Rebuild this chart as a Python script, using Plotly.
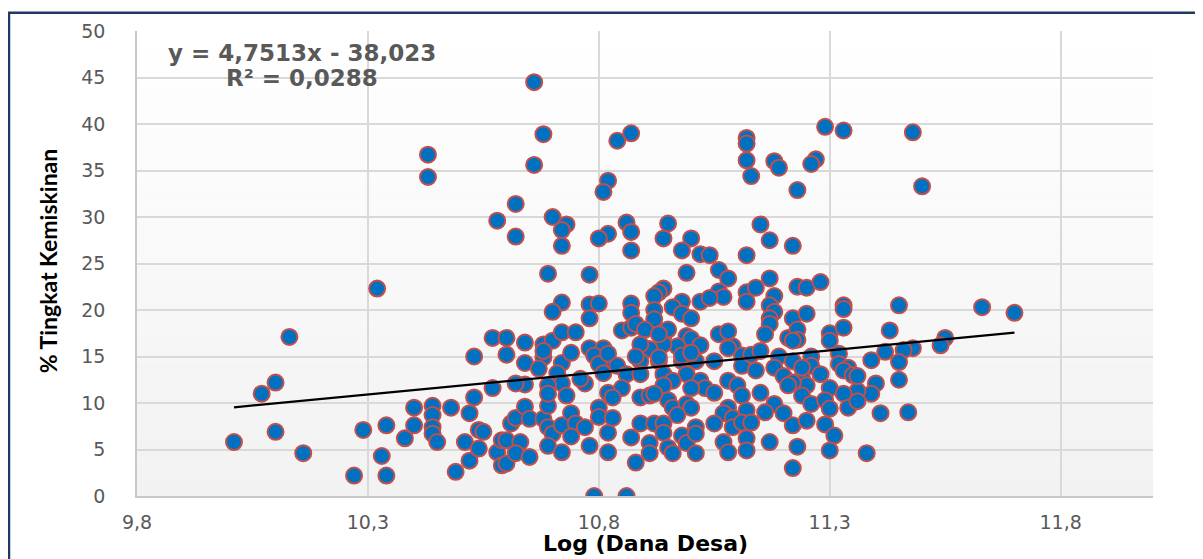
import plotly.graph_objects as go

# ---- data: (Log Dana Desa, % Tingkat Kemiskinan) ----
points_left = [
    (10.01, 5.8), (10.07, 11.0), (10.10, 12.2), (10.10, 6.9), (10.13, 17.1), (10.16, 4.6),
    (10.27, 2.2), (10.29, 7.1), (10.32, 22.3), (10.34, 7.6), (10.33, 4.3), (10.34, 2.2),
    (10.38, 6.2), (10.40, 9.5), (10.40, 7.6), (10.43, 36.7), (10.43, 34.3), (10.44, 9.7),
    (10.44, 8.7), (10.44, 7.4), (10.44, 6.7), (10.45, 5.8), (10.48, 9.5), (10.49, 2.6),
]

points_mid_low = [
    (10.51, 5.8), (10.52, 8.9), (10.52, 3.8), (10.54, 7.1), (10.55, 6.9), (10.54, 5.1),
    (10.58, 4.7), (10.59, 6.0), (10.60, 6.0), (10.59, 3.3), (10.60, 3.5), (10.61, 7.8),
    (10.62, 8.4), (10.63, 5.8), (10.62, 4.6), (10.64, 9.6), (10.65, 8.3), (10.65, 4.2),
    (10.68, 8.3), (10.69, 7.4), (10.70, 6.7), (10.69, 9.7), (10.69, 5.4), (10.72, 7.6),
    (10.72, 4.7), (10.74, 8.9), (10.75, 7.8), (10.74, 6.4), (10.77, 7.4), (10.78, 5.4),
    (10.80, 9.5), (10.80, 8.5), (10.82, 6.8), (10.82, 4.7), (10.79, 0.0), (10.86, 0.0),
]

points_mid = [
    (10.72, 20.8), (10.70, 19.8), (10.78, 20.6), (10.80, 20.7), (10.78, 19.1), (10.57, 17.0),
    (10.60, 17.0), (10.64, 16.5), (10.68, 16.3), (10.70, 16.7), (10.72, 17.6), (10.75, 17.6),
    (10.53, 15.0), (10.60, 15.2), (10.64, 14.3), (10.68, 14.9), (10.68, 15.6), (10.67, 13.7),
    (10.72, 14.3), (10.74, 15.4), (10.78, 15.9), (10.81, 15.9), (10.79, 15.1), (10.82, 14.3),
    (10.71, 13.2), (10.77, 12.1), (10.72, 12.1), (10.69, 11.9), (10.69, 11.0), (10.73, 10.8),
    (10.64, 12.0), (10.62, 12.1), (10.57, 11.6), (10.53, 10.6), (10.76, 12.6), (10.80, 14.2),
    (10.81, 13.2),
]

points_high = [
    (10.66, 44.5), (10.68, 38.9), (10.66, 35.6), (10.62, 31.4), (10.58, 29.6), (10.62, 27.9),
    (10.70, 30.0), (10.73, 29.2), (10.72, 28.6), (10.72, 26.9), (10.69, 23.9), (10.78, 23.8),
    (10.84, 38.2), (10.87, 39.0), (10.82, 33.9), (10.81, 32.7), (10.82, 28.2), (10.80, 27.7),
    (10.86, 29.4), (10.87, 28.4), (10.87, 26.4), (10.95, 29.3), (10.94, 27.7), (11.00, 27.7),
    (10.98, 26.4), (11.02, 26.0), (11.04, 25.9), (11.12, 38.5), (11.12, 37.9), (11.12, 36.1),
    (11.13, 34.4), (11.12, 25.9), (10.99, 24.0), (11.06, 24.3), (11.08, 23.4), (11.18, 36.0),
    (11.19, 35.3), (11.23, 32.9), (11.29, 39.7), (11.33, 39.3), (11.48, 39.1), (11.27, 36.2),
    (11.26, 35.7), (11.50, 33.3), (11.15, 29.2), (11.17, 27.5), (11.22, 26.9), (11.17, 23.4),
]

points_center = [
    (10.94, 22.3), (10.93, 21.9), (10.92, 21.5), (10.87, 20.7), (10.98, 20.9), (11.02, 20.9),
    (11.06, 22.0), (11.07, 21.4), (11.04, 21.3), (11.12, 21.9), (11.12, 20.9), (11.14, 22.4),
    (10.87, 19.7), (10.92, 20.0), (10.92, 19.0), (10.96, 20.3), (10.98, 19.6), (11.00, 19.1),
    (10.85, 17.8), (10.87, 18.1), (10.88, 18.5), (10.90, 17.9), (10.94, 17.2), (10.95, 17.9),
    (10.99, 17.2), (11.00, 16.9), (11.02, 16.2), (10.97, 16.1), (10.94, 16.3), (10.91, 15.8),
    (10.89, 16.3), (11.06, 17.4), (11.08, 17.7), (11.09, 16.1), (10.82, 15.3), (10.84, 14.0),
    (10.89, 14.5), (10.93, 14.5), (10.98, 14.5), (11.01, 14.5), (11.11, 15.1), (11.11, 14.0),
    (11.13, 15.2), (10.94, 13.1), (10.99, 13.1), (10.96, 12.4), (10.94, 11.9), (11.02, 12.4),
    (11.03, 11.6), (11.05, 11.1), (11.08, 12.4), (11.10, 11.9), (11.11, 10.8), (11.08, 9.5),
    (11.07, 8.9), (11.09, 8.4), (11.12, 9.2), (10.86, 13.1), (10.85, 11.6), (10.82, 11.1),
    (10.89, 10.6), (10.91, 10.8), (10.95, 10.3), (10.96, 9.5), (10.99, 9.9), (11.00, 9.5),
    (10.97, 8.7), (10.83, 8.4), (10.89, 7.8), (10.92, 7.8), (10.94, 7.8), (10.94, 6.8),
    (10.87, 6.3), (10.91, 5.7), (10.95, 5.2), (10.98, 6.5), (10.99, 5.7), (11.01, 7.4),
    (11.01, 6.7), (11.05, 7.8), (11.09, 7.4), (11.07, 5.8), (11.08, 4.7), (11.01, 4.6),
    (10.96, 4.6), (10.91, 4.6), (10.88, 3.6), (11.11, 7.9), (11.12, 6.2), (11.12, 4.9),
    (11.00, 11.6), (10.92, 11.0), (10.89, 13.1), (10.83, 10.6), (11.08, 15.9), (10.98, 15.1),
    (11.00, 15.4), (11.05, 14.5), (10.93, 14.9), (10.88, 15.0), (10.93, 17.4),
]

points_right = [
    (11.23, 22.5), (11.25, 22.4), (11.28, 23.0), (11.18, 21.5), (11.17, 20.5), (11.18, 19.8),
    (11.17, 19.1), (11.17, 18.5), (11.22, 19.1), (11.25, 19.6), (11.33, 20.5), (11.33, 20.1),
    (11.45, 20.5), (11.63, 20.3), (11.70, 19.7), (11.16, 17.4), (11.21, 17.0), (11.23, 17.9),
    (11.23, 16.8), (11.30, 17.5), (11.30, 16.7), (11.33, 18.1), (11.43, 17.8), (11.55, 17.0),
    (11.54, 16.2), (11.48, 15.9), (11.46, 15.7), (11.42, 15.5), (11.32, 15.3), (11.26, 15.0),
    (11.39, 14.6), (11.45, 14.4), (11.26, 14.0), (11.32, 14.2), (11.34, 13.8), (11.28, 13.1),
    (11.33, 13.5), (11.35, 13.0), (11.45, 12.5), (11.24, 12.7), (11.40, 12.1), (11.39, 11.0),
    (11.36, 11.3), (11.30, 11.6), (11.33, 11.0), (11.25, 11.9), (11.15, 15.6), (11.19, 15.0),
    (11.22, 14.5), (11.22, 16.7), (11.14, 13.5), (11.18, 13.8), (11.20, 12.9), (11.24, 13.8),
    (11.36, 12.9), (11.22, 12.2), (11.21, 11.9), (11.15, 11.1), (11.24, 10.8), (11.26, 9.9),
    (11.29, 10.3), (11.30, 9.4), (11.34, 9.5), (11.36, 10.2), (11.41, 8.9), (11.47, 9.0),
    (11.18, 9.9), (11.16, 9.0), (11.20, 8.9), (11.13, 7.9), (11.22, 7.6), (11.25, 8.1),
    (11.29, 7.7), (11.31, 6.5), (11.17, 5.8), (11.23, 5.3), (11.30, 4.9), (11.38, 4.6),
    (11.22, 3.0),
]

all_points = points_left + points_mid_low + points_mid + points_high + points_center + points_right
log_dana_desa = [p[0] for p in all_points]
tingkat_kemiskinan = [p[1] for p in all_points]

# trendline (as printed on the chart)
trend_slope = 4.7513
trend_intercept = -38.023
equation_text = "y = 4,7513x - 38,023"
r2_text = "R² = 0,0288"

x_ticks = [9.8, 10.3, 10.8, 11.3, 11.8]
x_tick_labels = ["9,8", "10,3", "10,8", "11,3", "11,8"]
y_ticks = [0, 5, 10, 15, 20, 25, 30, 35, 40, 45, 50]
y_tick_labels = [str(v) for v in y_ticks]

fig = go.Figure()

fig.add_trace(go.Scatter(
    x=log_dana_desa, y=tingkat_kemiskinan, mode="markers",
    marker=dict(size=16, color="#0070C0", line=dict(color="#C0504D", width=2)),
    showlegend=False, hoverinfo="x+y",
))

x_lo, x_hi = min(log_dana_desa), max(log_dana_desa)
fig.add_trace(go.Scatter(
    x=[x_lo, x_hi],
    y=[trend_slope * x_lo + trend_intercept, trend_slope * x_hi + trend_intercept],
    mode="lines", line=dict(color="black", width=2.2),
    showlegend=False, hoverinfo="skip",
))

# plot-area vertical gradient (white top -> light grey bottom)
n_bands = 24
shapes = []
for i in range(n_bands):
    t = i / (n_bands - 1)
    c = int(round(242 + (255 - 242) * t))
    shapes.append(dict(
        type="rect", xref="x domain", yref="y domain",
        x0=0, x1=1, y0=i / n_bands, y1=(i + 1) / n_bands,
        fillcolor=f"rgb({c},{c},{c})", line=dict(width=0), layer="below",
    ))
# outer navy frame
shapes.append(dict(
    type="rect", xref="paper", yref="paper",
    x0=-0.126, x1=1.1, y0=-0.35, y1=1.0395,
    line=dict(color="#1F3864", width=2.5), fillcolor="rgba(0,0,0,0)", layer="above",
))

tick_font = dict(family="DejaVu Sans", size=19, color="#595959")

# the page body has an 8px margin, so the figure is 8px smaller and offset
fig.update_layout(
    width=1195, height=551,
    margin=dict(l=129, r=50, t=20, b=63, pad=0),
    paper_bgcolor="white", plot_bgcolor="white",
    shapes=shapes,
    xaxis=dict(
        range=[9.8, 12.0], tickvals=x_ticks, ticktext=x_tick_labels,
        showgrid=True, gridcolor="#d9d9d9", gridwidth=1.5,
        showline=True, linecolor="#c8c8c8", linewidth=1.5,
        zeroline=False, ticks="", tickfont=tick_font, ticklabelstandoff=8,
        fixedrange=True,
    ),
    yaxis=dict(
        range=[0, 50], tickvals=y_ticks, ticktext=y_tick_labels,
        showgrid=True, gridcolor="#d9d9d9", gridwidth=1.5,
        showline=True, linecolor="#c8c8c8", linewidth=1.5,
        zeroline=False, ticks="", tickfont=tick_font, ticklabelstandoff=26,
        fixedrange=True,
    ),
    annotations=[
        dict(text="<b>" + equation_text + "</b>", xref="paper", yref="paper",
             x=0.1624, y=0.953, xanchor="center", yanchor="middle", showarrow=False,
             font=dict(family="DejaVu Sans", size=23, color="#595959")),
        dict(text="<b>" + r2_text + "</b>", xref="paper", yref="paper",
             x=0.1624, y=0.8996, xanchor="center", yanchor="middle", showarrow=False,
             font=dict(family="DejaVu Sans", size=23, color="#595959")),
        dict(text="<b>% Tingkat Kemiskinan</b>", xref="paper", yref="paper",
             x=-0.0876, y=0.507, xanchor="center", yanchor="middle", textangle=-90,
             showarrow=False,
             font=dict(family="Liberation Sans Narrow, Lato, sans-serif", size=23, color="black")),
        dict(text="<b>Log (Dana Desa)</b>", xref="paper", yref="paper",
             x=0.5, y=-0.103, xanchor="center", yanchor="middle", showarrow=False,
             font=dict(family="DejaVu Sans", size=22, color="black")),
    ],
)

fig.write_html("out.html")
